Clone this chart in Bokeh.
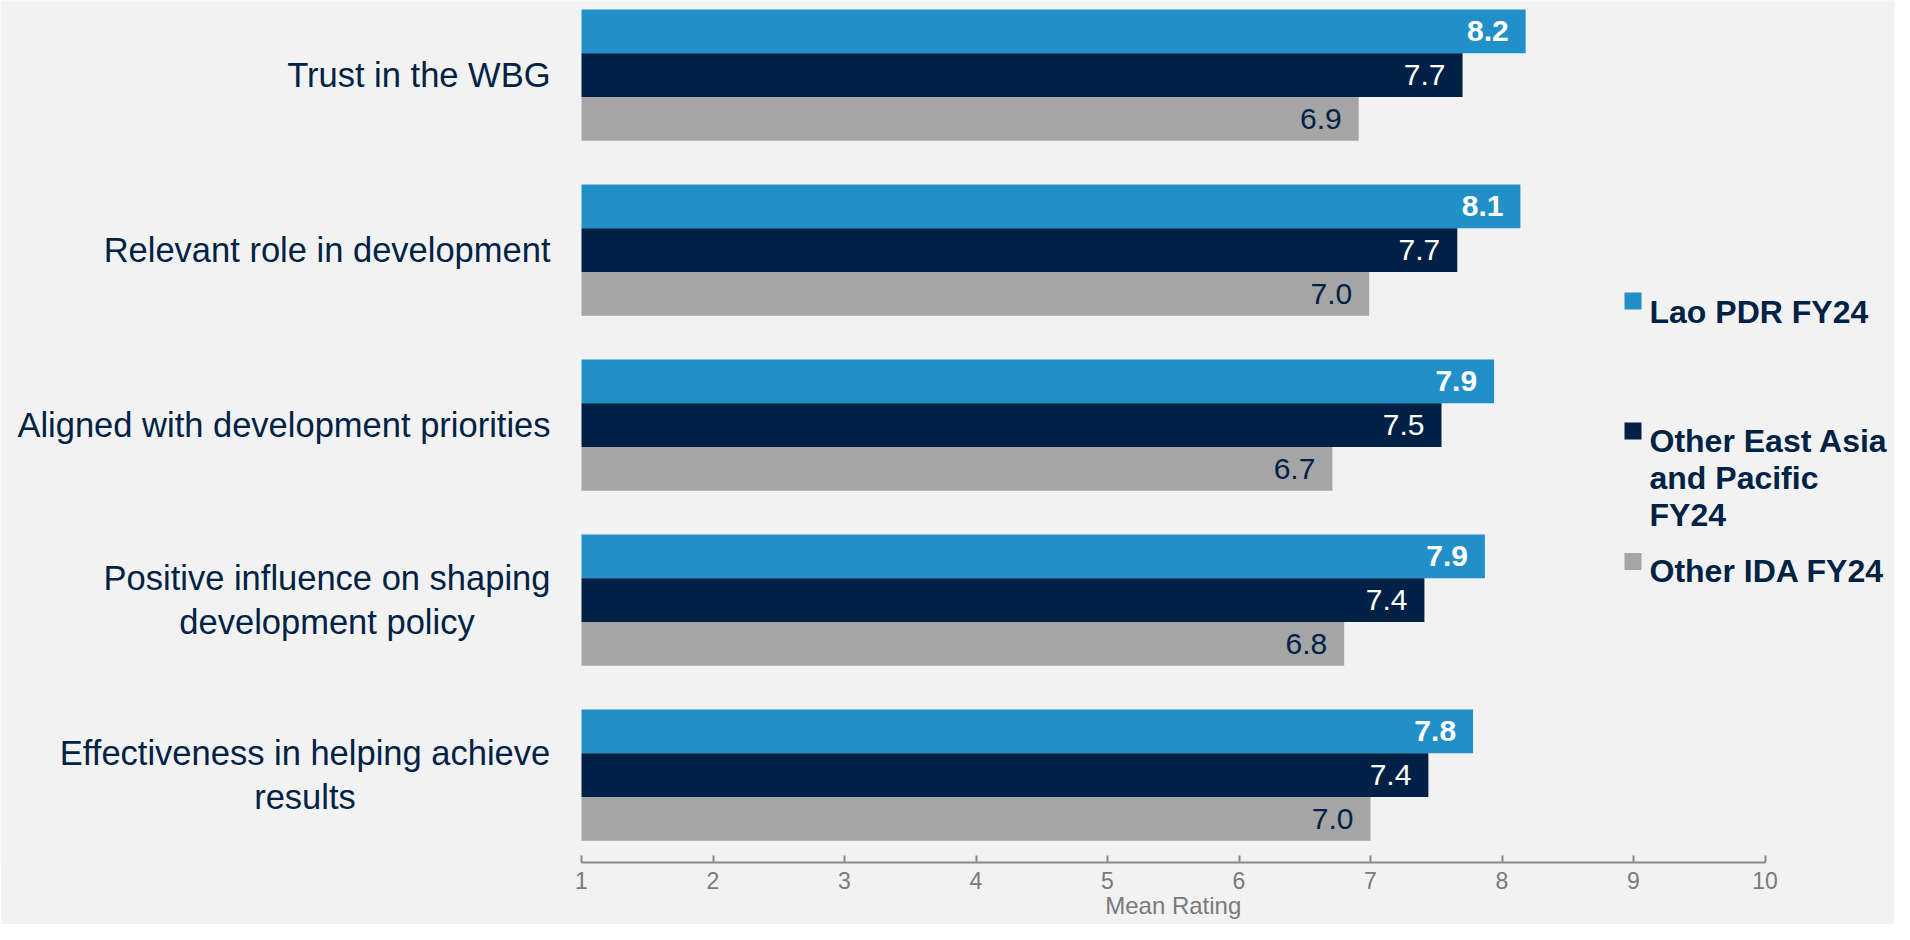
from bokeh.plotting import figure
from bokeh.models import Range1d, FixedTicker, LinearAxis
from bokeh.core.properties import value
from bokeh.embed import file_html
from bokeh.resources import INLINE
import numpy as np

# ---------------- data ----------------
categories = [
    "Trust in the WBG",
    "Relevant role in development",
    "Aligned with development priorities",
    "Positive influence on shaping\ndevelopment policy",
    "Effectiveness in helping achieve\nresults",
]
series_names = ["Lao PDR FY24", "Other East Asia\nand Pacific\nFY24", "Other IDA FY24"]
lao_fy24 = [8.18, 8.14, 7.94, 7.87, 7.78]
eap_fy24 = [7.70, 7.66, 7.54, 7.41, 7.44]
ida_fy24 = [6.91, 6.99, 6.71, 6.80, 7.00]
x_ticks = [1, 2, 3, 4, 5, 6, 7, 8, 9, 10]
axis_title = "Mean Rating"

# ---------------- styles ----------------
BG = "#F2F2F2"
NAVY = "#002245"
COLORS = ["#2190C8", "#002145", "#A5A5A5"]
LABEL_COLORS = ["#FFFFFF", "#FFFFFF", NAVY]
LABEL_STYLES = ["bold", "normal", "normal"]
FONT = value("Liberation Sans")
AXIS_GRAY = "#898989"
TICK_TEXT = "#7A7A7A"

# ---------------- layout (pixels) ----------------
W, H = 1894, 924
AXIS_Y_PX = 862              # pixel row of the x axis (frame bottom)
BOTTOM = H - AXIS_Y_PX
PX_PER_UNIT = 131.5          # pixels per rating unit
X1_PX = 581                  # pixel column of rating 1
PX_PER_CAT = 175             # pixels per category band
FIRST_CAT_PX = 74.5          # centre of first category band

x_start = 1 - X1_PX / PX_PER_UNIT
x_end = x_start + W / PX_PER_UNIT
y_top = -FIRST_CAT_PX / PX_PER_CAT
y_bottom = y_top + AXIS_Y_PX / PX_PER_CAT


def fx(px):
    return x_start + px / PX_PER_UNIT


def fy(py):
    return y_top + py / PX_PER_CAT


p = figure(
    width=W, height=H,
    x_range=Range1d(x_start, x_end),
    y_range=Range1d(start=y_bottom, end=y_top),
    x_axis_location="below", y_axis_location=None,
    output_backend="svg", toolbar_location=None,
    min_border_left=0, min_border_right=0, min_border_top=0,
    min_border_bottom=BOTTOM,
)
p.background_fill_color = BG
p.border_fill_color = BG
p.outline_line_color = None
p.grid.visible = False

idx = np.arange(len(categories))
bar_h = 0.25
offsets = [-0.25, 0.0, 0.25]
series = [lao_fy24, eap_fy24, ida_fy24]

for vals, off, col, lcol, lsty in zip(series, offsets, COLORS, LABEL_COLORS, LABEL_STYLES):
    ys = idx + off
    p.hbar(y=ys, left=1, right=vals, height=bar_h, fill_color=col, line_color=None)
    p.text(x=vals, y=ys, text=[f"{v:.1f}" for v in vals], x_offset=-17,
           text_align="right", text_baseline="middle", text_color=lcol,
           text_font=FONT, text_font_size="30px", text_font_style=lsty)

# category labels
single = [i for i, c in enumerate(categories) if "\n" not in c]
p.text(x=[1] * len(single), y=[idx[i] for i in single],
       text=[categories[i] for i in single], x_offset=-31,
       text_align="right", text_baseline="middle", text_color=NAVY,
       text_font=FONT, text_font_size="34.5px")
two_line_centres = {3: 326.5, 4: 304.5}
multi = [i for i, c in enumerate(categories) if "\n" in c]
p.text(x=[fx(two_line_centres[i]) for i in multi], y=[idx[i] for i in multi],
       text=[categories[i] for i in multi],
       text_align="center", text_baseline="middle", text_color=NAVY,
       text_font=FONT, text_font_size="34.5px", text_line_height=1.16)

# legend (manual)
sq_x = 1632.5
sq_ys = [300.5, 430.5, 561]
first_baselines = [311, 440, 570]
for name, col, sy, bl in zip(series_names, COLORS, sq_ys, first_baselines):
    p.scatter(x=[fx(sq_x)], y=[fy(sy)], marker="square", size=17,
              fill_color=col, line_color=None)
    lines = name.split("\n")
    p.text(x=[fx(1649)] * len(lines), y=[fy(bl + 37 * k) for k in range(len(lines))],
           text=lines, text_align="left", text_baseline="alphabetic",
           text_color=NAVY, text_font=FONT, text_font_size="32px",
           text_font_style="bold")

# x axis (ticks 1..10)
ax = p.below[0]
ax.bounds = (x_ticks[0], x_ticks[-1])
ax.ticker = FixedTicker(ticks=x_ticks)
ax.axis_line_color = AXIS_GRAY
ax.axis_line_width = 2
ax.major_tick_line_color = AXIS_GRAY
ax.major_tick_line_width = 2
ax.major_tick_in = 7
ax.major_tick_out = 0
ax.minor_tick_line_color = None
ax.major_label_text_font = "Liberation Sans"
ax.major_label_text_font_size = "23px"
ax.major_label_text_color = TICK_TEXT
ax.major_label_standoff = 9

# axis title, centred on the 1..10 axis extent
mid = (x_ticks[0] + x_ticks[-1]) / 2
title_axis = LinearAxis(
    ticker=FixedTicker(ticks=[mid]),
    major_label_overrides={mid: axis_title},
    axis_line_color=None, major_tick_line_color=None, minor_tick_line_color=None,
    major_tick_in=0, major_tick_out=0, major_label_standoff=0,
    major_label_text_font="Liberation Sans", major_label_text_font_size="24px",
    major_label_text_color=TICK_TEXT,
)
p.add_layout(title_axis, "below")

open("out.html", "w").write(file_html(p, INLINE))
